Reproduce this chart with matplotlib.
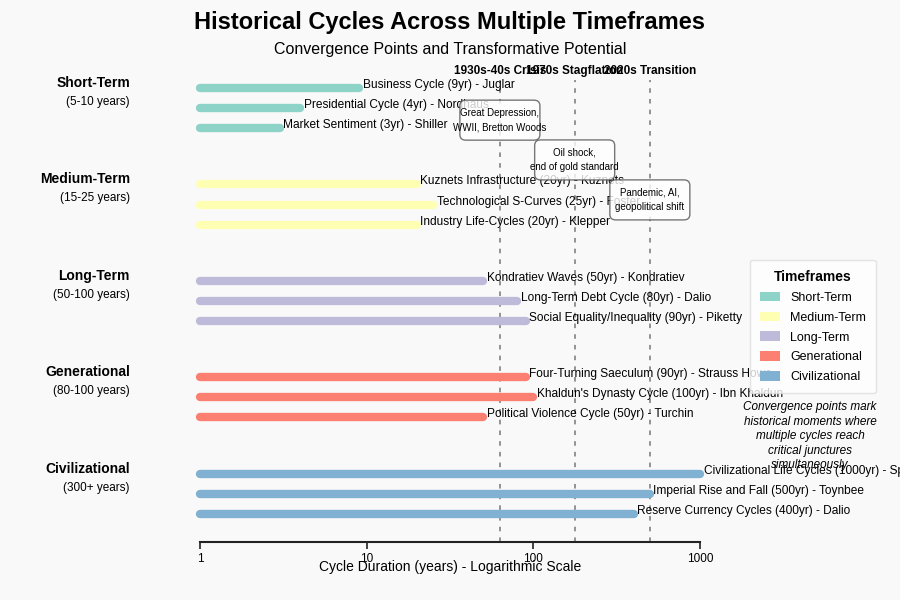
import matplotlib
matplotlib.use('Agg')
import matplotlib.pyplot as plt
import matplotlib.transforms as mtransforms
from matplotlib.patches import Patch, FancyBboxPatch

plt.rcParams['font.family'] = ['Liberation Sans', 'DejaVu Sans']

# timeframe groups
groups = ['Short-Term', 'Medium-Term', 'Long-Term', 'Generational', 'Civilizational']
group_ranges = ['(5-10 years)', '(15-25 years)', '(50-100 years)', '(80-100 years)', '(300+ years)']
group_colors = ['#8dd3c7', '#ffffb3', '#bebada', '#fb8072', '#80b1d3']

# cycles per group: name, duration (years), author
cycle_names = [
    ['Business Cycle', 'Presidential Cycle', 'Market Sentiment'],
    ['Kuznets Infrastructure', 'Technological S-Curves', 'Industry Life-Cycles'],
    ['Kondratiev Waves', 'Long-Term Debt Cycle', 'Social Equality/Inequality'],
    ['Four-Turning Saeculum', "Khaldun's Dynasty Cycle", 'Political Violence Cycle'],
    ['Civilizational Life Cycles', 'Imperial Rise and Fall', 'Reserve Currency Cycles'],
]
cycle_years = [
    [9, 4, 3],
    [20, 25, 20],
    [50, 80, 90],
    [90, 100, 50],
    [1000, 500, 400],
]
cycle_authors = [
    ['Juglar', 'Nordhaus', 'Shiller'],
    ['Kuznets', 'Foster', 'Klepper'],
    ['Kondratiev', 'Dalio', 'Piketty'],
    ['Strauss Howe', 'Ibn Khaldun', 'Turchin'],
    ['Spengler', 'Toynbee', 'Dalio'],
]

# convergence points
event_x = [63, 177, 500]
event_titles = ['1930s-40s Crisis', '1970s Stagflation', '2020s Transition']
event_notes = ['Great Depression,\nWWII, Bretton Woods', 'Oil shock,\nend of gold standard',
               'Pandemic, AI,\ngeopolitical shift']
event_note_y = [1.6, 3.58, 5.57]

bg = '#f9f9f9'
fig = plt.figure(figsize=(9, 6), dpi=100, facecolor=bg)
ax = fig.add_axes([0.2222, 0.0967, 0.5556, 0.77])
ax.set_facecolor(bg)

group_gap = 4.8
for i, g in enumerate(groups):
    for j in range(3):
        y = i * group_gap + j
        v = cycle_years[i][j]
        ax.plot([1, v], [y, y], color=group_colors[i], lw=6, solid_capstyle='round',
                zorder=3, clip_on=False)
        ax.text(v * 1.05, y - 0.15, f'{cycle_names[i][j]} ({v}yr) - {cycle_authors[i][j]}',
                fontsize=8.6, va='center', ha='left', zorder=4)

# group labels on the left
trans = mtransforms.blended_transform_factory(fig.transFigure, ax.transData)
for i, g in enumerate(groups):
    y0 = i * group_gap
    ax.text(0.1444, y0 - 0.25, g, transform=trans, ha='right', va='center',
            fontsize=10, fontweight='bold')
    ax.text(0.1444, y0 + 0.7, group_ranges[i], transform=trans, ha='right', va='center',
            fontsize=8.5)

ax.set_xscale('log')
ax.set_xlim(1, 1000)
ax.set_ylim(22.6, -0.4)

# convergence lines
tr_top = mtransforms.blended_transform_factory(ax.transData, ax.transAxes)
for x, t, note, ny in zip(event_x, event_titles, event_notes, event_note_y):
    ax.axvline(x, color='#777777', lw=1.1, dashes=(3, 4), zorder=2)
    ax.text(x, 1.02, t, transform=tr_top, ha='center', va='center', fontsize=8.5,
            fontweight='bold')
    # note box in axes fraction
    cx, cy = ax.transAxes.inverted().transform(ax.transData.transform((x, ny)))
    bw, bh = 0.16, 0.0866
    box = FancyBboxPatch((cx - bw / 2, cy - bh / 2), bw, bh, transform=ax.transAxes,
                         boxstyle='round,pad=0,rounding_size=0.012', facecolor='white',
                         edgecolor='#555555', lw=1, alpha=0.8, zorder=5)
    ax.add_patch(box)
    ax.text(x, ny, note, ha='center', va='center', fontsize=7, linespacing=1.55, zorder=6)

ax.set_xticks([1, 10, 100, 1000])
ax.set_xticklabels(['1', '10', '100', '1000'])
ax.minorticks_off()
ax.tick_params(axis='x', labelsize=8.5, length=5, width=1.2, pad=3, color='#222222')
ax.set_yticks([])
for s in ['top', 'right', 'left']:
    ax.spines[s].set_visible(False)
ax.spines['bottom'].set_linewidth(1.5)
ax.spines['bottom'].set_color('#222222')
ax.set_xlabel('Cycle Duration (years) - Logarithmic Scale', fontsize=10, labelpad=-4)

fig.suptitle('Historical Cycles Across Multiple Timeframes', y=0.963, fontsize=17,
             fontweight='bold', va='center')
fig.text(0.5, 0.917, 'Convergence Points and Transformative Potential', ha='center',
         va='center', fontsize=11.5)

handles = [Patch(facecolor=c, label=g) for c, g in zip(group_colors, groups)]
leg = fig.legend(handles=handles, title='Timeframes', loc='upper left',
                 bbox_to_anchor=(0.8333, 0.5667), borderaxespad=0, fontsize=9,
                 title_fontsize=10, handlelength=1.6, handleheight=0.8, handletextpad=0.8,
                 labelspacing=0.62, borderpad=0.8, frameon=True, facecolor='white',
                 edgecolor='#dddddd', framealpha=0.8)
leg.get_title().set_fontweight('bold')

fig.text(0.9, 0.273, 'Convergence points mark\nhistorical moments where\nmultiple cycles reach\n'
         'critical junctures\nsimultaneously', ha='center', va='center', fontsize=8.5,
         style='italic', linespacing=1.27)

fig.savefig('out.png', dpi=100, facecolor=bg)
